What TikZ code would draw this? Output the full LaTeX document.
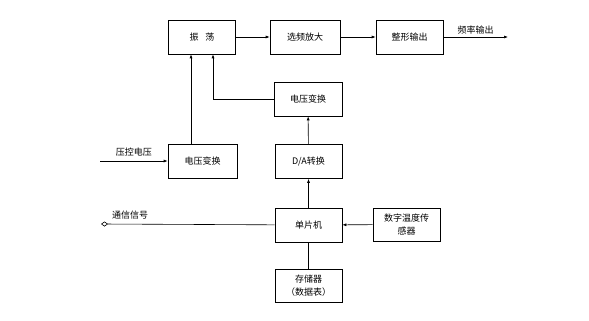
\documentclass[tikz,border=0pt]{standalone}
\usepackage{fontspec}
\newfontfamily\cjk{Noto Sans CJK SC}
\usetikzlibrary{arrows.meta}
\begin{document}
\begin{tikzpicture}[x=1pt,y=-1pt,
  blk/.style={draw,line width=0.6pt,minimum width=67pt,minimum height=34pt,inner sep=0pt,align=center,font=\cjk\fontsize{9}{12.5}\selectfont},
  lbl/.style={inner sep=1pt,font=\cjk\fontsize{9}{10}\selectfont},
  ln/.style={line width=0.6pt},
  arr/.style={ln,-{Latex[length=4pt,width=3pt]}}]
\useasboundingbox[fill=white] (0,0) rectangle (589,321);
\node[blk] (osc) at (202,37) {振\hspace{7pt}荡};
\node[blk,minimum width=70pt] (sel) at (305,37) {选频放大};
\node[blk] (shp) at (409.5,37) {整形输出};
\node[blk,minimum width=68pt] (vc2) at (308,99) {电压变换};
\node[blk,minimum width=69pt] (vc1) at (202.5,161) {电压变换};
\node[blk,minimum width=67pt] (da) at (308.5,161.5) {D/A转换};
\node[blk,minimum width=67pt] (mcu) at (308.5,225) {单片机};
\node[blk,minimum width=67pt,minimum height=33pt] (sen) at (406.5,224.5) {数字温度传\\感器};
\node[blk,minimum width=67pt,minimum height=33pt] (mem) at (308.5,285.5) {存储器\\（数据表）};
\coordinate (fo) at (508,37);
\coordinate (vin) at (100,161);
\coordinate (com) at (101,224);
\coordinate (bend) at (213,99);
\draw[arr] (osc) -- (sel);
\draw[arr] (sel) -- (shp);
\draw[arr] (shp) -- (fo) node[lbl,midway,above=1pt] {频率输出};
\draw[arr] (vin) -- (vc1) node[lbl,midway,above=3pt] {压控电压};
\draw[arr] (vc1.north -| 191,0) -- (osc.south -| 191,0);
\draw[arr] (vc2.west) -- (bend) -- (osc.south -| bend);
\draw[arr] (da) -- (vc2);
\draw[arr] (mcu) -- (da);
\draw[arr] (sen) -- (mcu);
\draw[ln,-{Diamond[open,length=7pt,width=5pt]}] (mcu) -- (com);
\node[lbl,anchor=west] (coml) at (111,215) {通信信号};
\draw[ln] (mcu) -- (mem);
\end{tikzpicture}
\end{document}
